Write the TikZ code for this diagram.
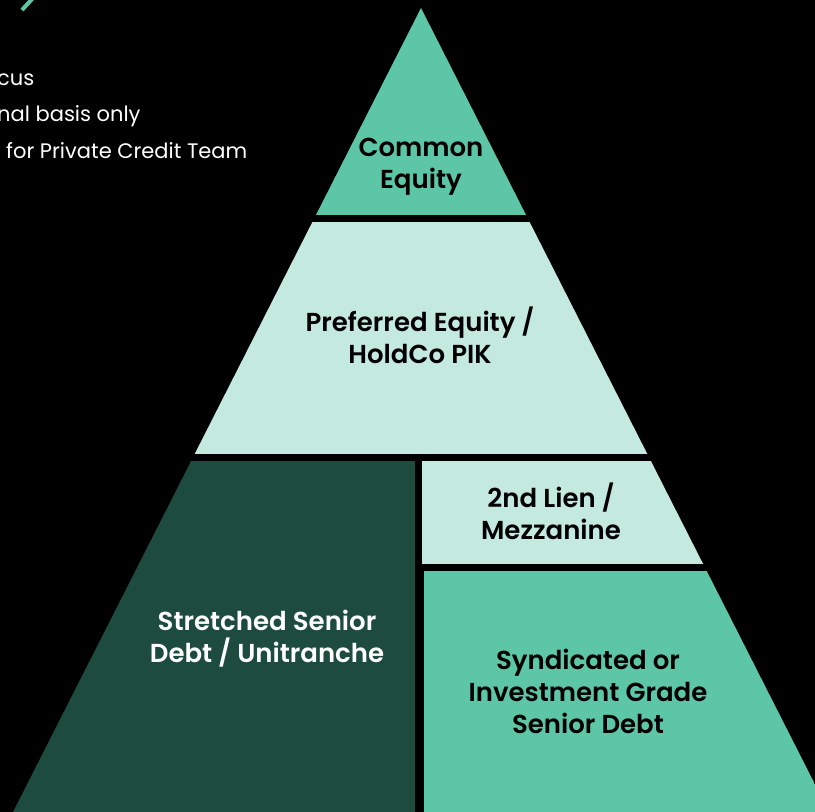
\documentclass[tikz,border=0pt]{standalone}
\usepackage{fontspec}
\setmainfont{Poppins}[BoldFont={Poppins SemiBold}]
\usetikzlibrary{positioning}

\definecolor{midgreen}{HTML}{5CC6A7}
\definecolor{lightgreen}{HTML}{C4EADF}
\definecolor{darkgreen}{HTML}{1D4B3E}

\begin{document}
\begin{tikzpicture}[
  x=1pt,y=-1pt,
  tier/.style={align=center,font=\fontsize{26}{32}\selectfont\bfseries},
  note/.style={anchor=west,text=white,inner sep=0pt,font=\fontsize{21}{24}\selectfont}
]
  % canvas
  \fill[black] (0,0) rectangle (815,812);
  \useasboundingbox (0,0) rectangle (815,812);
  \clip (0,0) rectangle (815,812);

  % green accent stroke, top left
  \coordinate (accA) at (22,10);
  \coordinate (accB) at (33,-2);
  \draw[midgreen,line width=4pt] (accA) -- (accB);

  % left side notes (cut off by the page edge)
  \node[note] (n1) at (-3,80)  {cus};
  \node[note] (n2) at (-3,116) {nal basis only};
  \node[note] (n3) at (6,151)  {for Private Credit Team};

  % pyramid: apex and feet
  \coordinate (apex) at (421,8);
  \coordinate (footL) at (13,812);
  \coordinate (footR) at (829,812);

  \begin{scope}
    \clip (apex) -- (footL) -- (footR) -- cycle;
    \fill[midgreen]   (0,0)     rectangle (815,215);
    \fill[lightgreen] (0,222)   rectangle (815,454);
    \fill[darkgreen]  (0,461)   rectangle (415,812);
    \fill[lightgreen] (422,461) rectangle (815,564);
    \fill[midgreen]   (424,571) rectangle (830,812);
  \end{scope}

  % tier labels
  \node[tier] (common) at (421,167) {Common\\Equity};
  \node[tier] (pref)   at (420,335) {Preferred Equity /\\HoldCo PIK};
  \node[tier] (lien)   at (551,511) {2nd Lien /\\Mezzanine};
  \node[tier,text=white] (stretch) at (267,639) {Stretched Senior\\Debt / Unitranche};
  \node[tier] (synd)   at (588,691) {Syndicated or\\Investment Grade\\Senior Debt};
\end{tikzpicture}
\end{document}
